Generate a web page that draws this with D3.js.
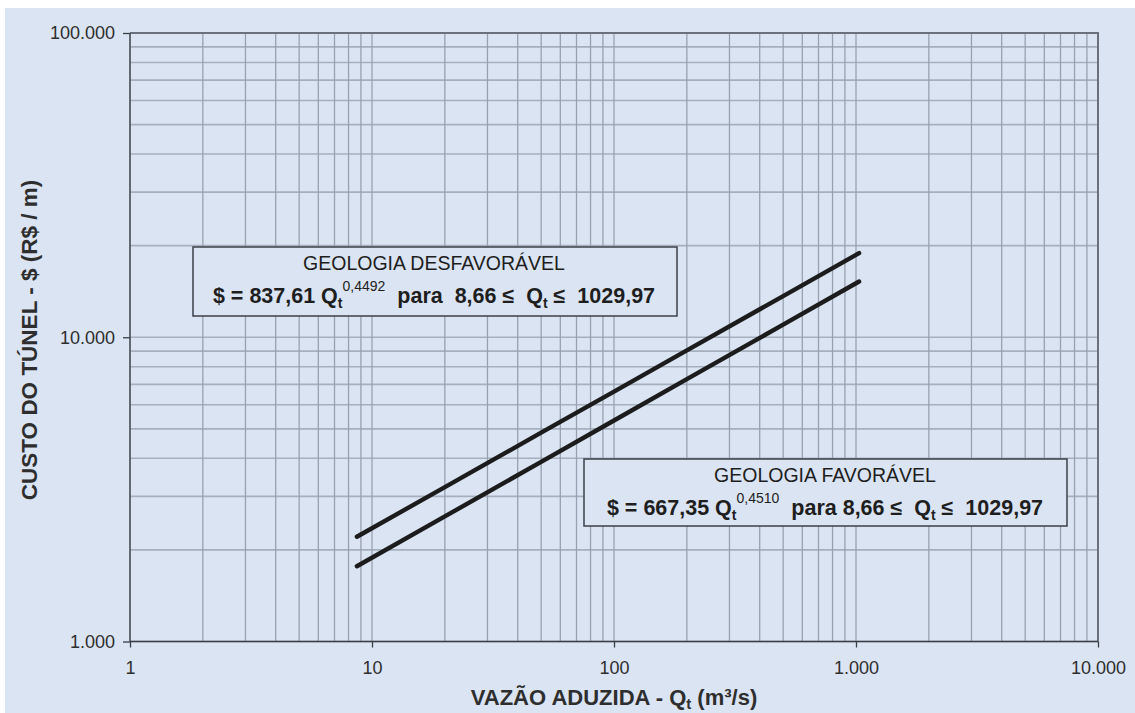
<!DOCTYPE html>
<html>
<head>
<meta charset="utf-8">
<script src="https://cdn.jsdelivr.net/npm/d3@7"></script>
<style>
  html, body { margin: 0; padding: 0; background: #ffffff; }
  svg { display: block; }
  text { font-family: "Liberation Sans", Arial, Helvetica, sans-serif; }
</style>
</head>
<body>
<svg id="chart" width="1135" height="713"></svg>
<script>
// Vazão aduzida (m³/s) at which each curve is sampled
const vazao = [8.66, 20, 50, 100, 200, 500, 1029.97];
// Custo do túnel (R$/m) — geologia desfavorável: $ = 837,61 Qt^0,4492
const custoDesfavoravel = [2209, 3217, 4856, 6629, 9050, 13658, 18896];
// Custo do túnel (R$/m) — geologia favorável: $ = 667,35 Qt^0,4510
const custoFavoravel = [1767, 2577, 3896, 5326, 7280, 11004, 15248];
// Major tick values
const xTickValues = [1, 10, 100, 1000, 10000];
const yTickValues = [1000, 10000, 100000];

(function () {
const svg = d3.select("#chart");
const bg = "#dbe4f3";

svg.append("rect").attr("x", 5).attr("y", 8).attr("width", 1130).attr("height", 705).attr("fill", bg);

const pL = 130, pR = 1098, pT = 33, pB = 641.5;
const x = d3.scaleLog().domain([1, 10000]).range([pL, pR]);
const y = d3.scaleLog().domain([1000, 100000]).range([pB, pT]);

const ptBR = d3.formatLocale({ decimal: ",", thousands: ".", grouping: [3], currency: ["R$", ""] });
const fmt = ptBR.format(",d");

// grid
const grid = svg.append("g");
grid.selectAll("line.h").data(y.ticks()).join("line")
  .attr("x1", pL).attr("x2", pR)
  .attr("y1", d => y(d)).attr("y2", d => y(d))
  .attr("stroke", "#a6afbe").attr("stroke-width", 1.6);
grid.selectAll("line.v").data(x.ticks()).join("line")
  .attr("y1", pT).attr("y2", pB)
  .attr("x1", d => x(d)).attr("x2", d => x(d))
  .attr("stroke", "#98a1af").attr("stroke-width", 1.3);

// frame top / right
svg.append("line").attr("x1", pL).attr("x2", pR + 1).attr("y1", pT).attr("y2", pT)
  .attr("stroke", "#6a717c").attr("stroke-width", 2);
svg.append("line").attr("x1", pR).attr("x2", pR).attr("y1", pT).attr("y2", pB)
  .attr("stroke", "#6a717c").attr("stroke-width", 2);

// axes
const xAxis = svg.append("g").attr("transform", `translate(0,${pB})`)
  .call(d3.axisBottom(x).tickValues(xTickValues).tickSize(6).tickPadding(14).tickFormat(fmt));
const yAxis = svg.append("g").attr("transform", `translate(${pL},0)`)
  .call(d3.axisLeft(y).tickValues(yTickValues).tickSize(7).tickPadding(8).tickFormat(fmt));
[xAxis, yAxis].forEach(a => {
  a.select(".domain").attr("stroke", "#3a3f46").attr("stroke-width", 1.3);
  a.selectAll(".tick line").attr("stroke", "#3a3f46").attr("stroke-width", 1.3);
  a.selectAll(".tick text").attr("fill", "#2e2e2e").style("font-size", "18px")
    .style("font-family", "'Liberation Sans', Arial, sans-serif");
});
xAxis.select(".domain").attr("d", `M${pL},0H${pR}`);
yAxis.select(".domain").attr("d", `M0,${pB}V${pT}`);

// curves
const line = d3.line().x(d => x(d[0])).y(d => y(d[1]));
[custoDesfavoravel, custoFavoravel].forEach(s => {
  svg.append("path")
    .datum(vazao.map((q, i) => [q, s[i]]))
    .attr("d", line)
    .attr("fill", "none")
    .attr("stroke", "#1c1c1c")
    .attr("stroke-width", 4.4)
    .attr("stroke-linecap", "round");
});

// annotation boxes
function annotation(bx, by, bw, bh, title, coef, expo, cx, gap) {
  const g = svg.append("g");
  g.append("rect").attr("x", bx).attr("y", by).attr("width", bw).attr("height", bh)
    .attr("fill", bg).attr("stroke", "#3c4048").attr("stroke-width", 1.5);
  g.append("text").attr("x", cx).attr("y", by + 23).attr("text-anchor", "middle")
    .attr("fill", "#1e1e1e").style("font-size", "19.5px").text(title);
  const t = g.append("text").attr("x", cx).attr("y", by + 55.5).attr("text-anchor", "middle")
    .attr("fill", "#1e1e1e").style("font-size", "21.5px").style("font-weight", "bold");
  t.append("tspan").text(`$ = ${coef} Q`);
  t.append("tspan").attr("dy", 5).style("font-size", "14px").text("t");
  t.append("tspan").attr("dy", -17).style("font-size", "14px").style("font-weight", "normal").text(expo);
  t.append("tspan").attr("dy", 12).text(`\u00a0 para${gap}8,66 \u2264\u00a0 Q`);
  t.append("tspan").attr("dy", 5).style("font-size", "14px").text("t");
  t.append("tspan").attr("dy", -5).text(" \u2264\u00a0 1029,97");
}
annotation(193, 247, 484, 69, "GEOLOGIA DESFAVORÁVEL", "837,61", "0,4492", 434, "\u00a0 ");
annotation(584, 459, 483, 67, "GEOLOGIA FAVORÁVEL", "667,35", "0,4510", 825, " ");

// axis titles
const xt = svg.append("text").attr("x", 614).attr("y", 705).attr("text-anchor", "middle")
  .attr("fill", "#2e2e2e").style("font-size", "22px").style("font-weight", "bold");
xt.append("tspan").text("VAZÃO ADUZIDA - Q");
xt.append("tspan").attr("dy", 4).style("font-size", "15px").text("t");
xt.append("tspan").attr("dy", -4).text(" (m³/s)");

svg.append("text").attr("transform", "translate(37,340) rotate(-90)").attr("text-anchor", "middle")
  .attr("fill", "#2e2e2e").style("font-size", "22.5px").style("font-weight", "bold")
  .text("CUSTO DO TÚNEL - $ (R$ / m)");
})();
</script>
</body>
</html>
